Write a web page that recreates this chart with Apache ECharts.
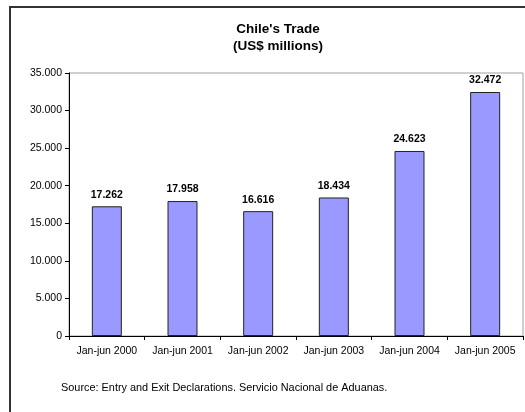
<!DOCTYPE html>
<html>
<head>
<meta charset="utf-8">
<script src="https://cdn.jsdelivr.net/npm/echarts@6/dist/echarts.min.js"></script>
<style>
  html, body { margin: 0; padding: 0; background: #fff; }
  #chart { width: 525px; height: 412px; }
</style>
</head>
<body>
<div id="chart"></div>
<script>
// Chile's trade, January-June of each year (US$ millions)
const categories = ['Jan-jun 2000', 'Jan-jun 2001', 'Jan-jun 2002', 'Jan-jun 2003', 'Jan-jun 2004', 'Jan-jun 2005'];
const tradeValues = [17262, 17958, 16616, 18434, 24623, 32472];
const yTickMax = 35000;
const yTickStep = 5000;
const titleLines = ["Chile's Trade", '(US$ millions)'];
const sourceNote = 'Source: Entry and Exit Declarations. Servicio Nacional de Aduanas.';

const FONT = 'Liberation Sans, Arial, sans-serif';

// Thousands separated with dots, e.g. 17.262
function dotThousands(v) {
  return String(Math.round(v)).replace(/\B(?=(\d{3})+(?!\d))/g, '.');
}

const chart = echarts.init(document.getElementById('chart'), null, { renderer: 'canvas' });

chart.setOption({
  animation: false,
  backgroundColor: '#ffffff',
  textStyle: { fontFamily: FONT },
  title: {
    text: titleLines.join('\n'),
    left: 273,
    textAlign: 'center',
    top: 16,
    textStyle: { fontFamily: FONT, fontSize: 13.5, fontWeight: 'bold', color: '#000', lineHeight: 17 }
  },
  grid: {
    left: 69, right: 2, top: 73, bottom: 76,
    show: true,
    borderColor: '#a0a0a0',
    borderWidth: 1,
    backgroundColor: '#ffffff'
  },
  xAxis: {
    type: 'category',
    data: categories,
    boundaryGap: true,
    axisLine: { lineStyle: { color: '#000', width: 1 } },
    axisTick: { show: true, length: 4, alignWithLabel: false, lineStyle: { color: '#000' } },
    axisLabel: { color: '#000', fontFamily: FONT, fontSize: 10.5, margin: 10, interval: 0 }
  },
  yAxis: {
    type: 'value',
    min: 0,
    max: yTickMax,
    interval: yTickStep,
    axisLine: { show: true, lineStyle: { color: '#000', width: 1 } },
    axisTick: { show: true, length: 4, lineStyle: { color: '#000' } },
    splitLine: { show: false },
    axisLabel: { color: '#000', fontFamily: FONT, fontSize: 10.5, margin: 7, formatter: dotThousands }
  },
  series: [{
    type: 'bar',
    data: tradeValues,
    barWidth: 30,
    itemStyle: { color: '#9999ff', borderColor: '#222', borderWidth: 1 },
    label: {
      show: true,
      position: 'top',
      distance: 6,
      color: '#000',
      fontFamily: FONT,
      fontSize: 10.5,
      fontWeight: 'bold',
      formatter: p => dotThousands(p.value)
    }
  }],
  graphic: [
    {
      type: 'rect',
      z: 100,
      shape: { x: 10, y: 7, width: 560, height: 440 },
      style: { fill: 'none', stroke: '#333', lineWidth: 2 },
      silent: true
    },
    {
      type: 'text',
      left: 61,
      top: 382,
      style: { text: sourceNote, fill: '#000', font: '10.9px ' + FONT }
    }
  ]
});
</script>
</body>
</html>
